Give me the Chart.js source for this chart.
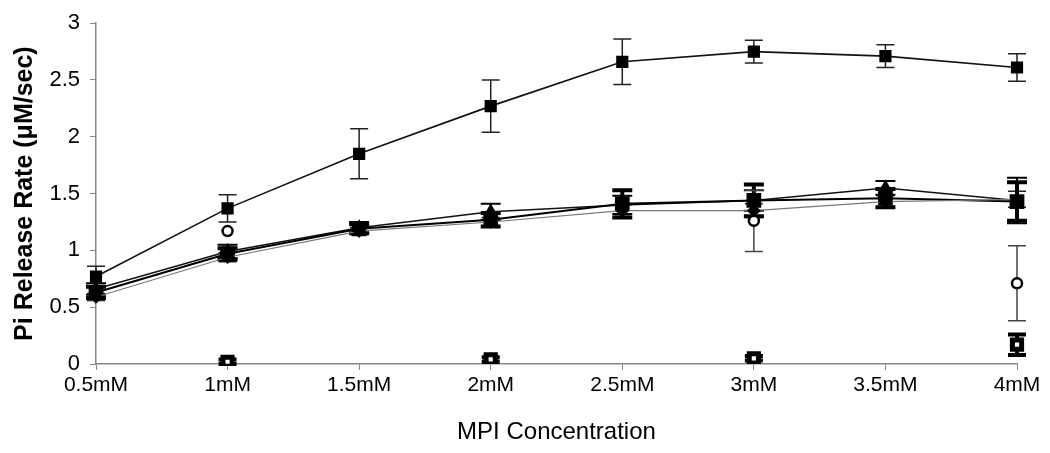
<!DOCTYPE html>
<html>
<head>
<meta charset="utf-8">
<script src="https://cdn.jsdelivr.net/npm/chart.js@4"></script>
<style>
  html, body { margin: 0; padding: 0; background: #fff; }
  #wrap { position: relative; width: 1050px; height: 453px; }
</style>
</head>
<body>
<div id="wrap"><canvas id="chart"></canvas></div>
<script>
// Data
const concentrations = ['0.5mM', '1mM', '1.5mM', '2mM', '2.5mM', '3mM', '3.5mM', '4mM'];

const topRates   = [0.77, 1.37, 1.85, 2.27, 2.66, 2.75, 2.71, 2.61];
const topErrors  = [0.09, 0.12, 0.22, 0.23, 0.20, 0.10, 0.10, 0.12];

const triRates   = [0.66, 0.99, 1.20, 1.34, 1.40, 1.44, 1.55, 1.44];
const triErrors  = [0.05, 0.06, 0.05, 0.07, 0.08, 0.09, 0.06, 0.20];

const sqRates    = [0.63, 0.97, 1.19, 1.27, 1.41, 1.44, 1.46, 1.43];
const sqErrors   = [0.05, 0.05, 0.04, 0.06, 0.12, 0.14, 0.08, 0.17];

const diaRates   = [0.59, 0.94, 1.17, 1.25, 1.35, 1.35, 1.43, 1.45];
const diaErrors  = [0.03, 0.04, 0.03, 0.04, 0.05, 0.06, 0.05, 0.07];

const circleRates  = [null, 1.17, null, null, null, 1.26, null, 0.71];
const circleErrors = [0, 0, 0, 0, 0, 0.27, 0, 0.33];

const openRates  = [null, 0.02, null, 0.04, null, 0.05, null, 0.17];
const openErrors = [0, 0.02, 0, 0.02, 0, 0.02, 0, 0.09];

const yTicks = [0, 0.5, 1, 1.5, 2, 2.5, 3];

// error bar plugin, drawn through the chart's own scales
const errorBars = {
    id: 'errorBars',
    beforeDatasetsDraw(chart) {
        const ctx = chart.ctx;
        const x = chart.scales.x;
        const y = chart.scales.y;
        chart.data.datasets.forEach((ds) => {
            if (!ds.errors) return;
            ctx.save();
            ctx.strokeStyle = ds.errColor || '#222';
            ctx.lineWidth = ds.errWidth || 1.5;
            ds.data.forEach((v, j) => {
                const e = ds.errors[j];
                if (v == null || !e) return;
                const px = x.getPixelForValue(j);
                const top = y.getPixelForValue(v + e);
                const bot = y.getPixelForValue(Math.max(v - e, 0));
                const cap = ds.capWidth || 8;
                ctx.beginPath();
                ctx.moveTo(px, top); ctx.lineTo(px, bot);
                ctx.moveTo(px - cap, top); ctx.lineTo(px + cap, top);
                ctx.moveTo(px - cap, bot); ctx.lineTo(px + cap, bot);
                ctx.stroke();
            });
            ctx.restore();
        });
    }
};

const font = "'Liberation Sans', Arial, sans-serif";

new Chart(document.getElementById('chart'), {
    type: 'line',
    data: {
        labels: concentrations,
        datasets: [
            {
                data: diaRates, errors: diaErrors, capWidth: 9,
                borderColor: '#777', borderWidth: 1.2,
                pointStyle: 'rectRot', pointRadius: 6,
                pointBackgroundColor: '#000', pointBorderColor: '#000'
            },
            {
                data: sqRates, errors: sqErrors, capWidth: 10, errWidth: 4, errColor: '#000',
                borderColor: '#000', borderWidth: 2,
                pointStyle: 'rect', pointRadius: 9,
                pointBackgroundColor: '#000', pointBorderColor: '#000'
            },
            {
                data: triRates, errors: triErrors, capWidth: 10, errWidth: 2, errColor: '#000',
                borderColor: '#111', borderWidth: 1.5,
                pointStyle: 'triangle', pointRadius: 7,
                pointBackgroundColor: '#000', pointBorderColor: '#000'
            },
            {
                data: topRates, errors: topErrors, capWidth: 9,
                borderColor: '#111', borderWidth: 1.6,
                pointStyle: 'rect', pointRadius: 7.5,
                pointBackgroundColor: '#000', pointBorderColor: '#000'
            },
            {
                data: circleRates, errors: circleErrors, capWidth: 9, errColor: '#444',
                showLine: false,
                pointStyle: 'circle', pointRadius: 5,
                pointBackgroundColor: '#fff', pointBorderColor: '#000', pointBorderWidth: 2.5
            },
            {
                data: openRates, errors: openErrors, capWidth: 9, errWidth: 4, errColor: '#000',
                showLine: false,
                pointStyle: 'rect', pointRadius: 6.5,
                pointBackgroundColor: '#fff', pointBorderColor: '#000', pointBorderWidth: 5
            }
        ]
    },
    options: {
        responsive: true,
        maintainAspectRatio: false,
        animation: false,
        layout: { padding: { top: 19, right: 33, bottom: 2, left: 0 } },
        plugins: {
            legend: { display: false },
            tooltip: { enabled: false }
        },
        scales: {
            x: {
                offset: false,
                grid: { drawOnChartArea: false, drawTicks: true, tickLength: 6, color: '#888' },
                border: { color: '#888', width: 1.5 },
                ticks: { color: '#000', font: { family: font, size: 21 }, padding: 3, maxRotation: 0 },
                title: {
                    display: true, text: 'MPI Concentration', color: '#000',
                    font: { family: font, size: 24 }, padding: { top: 20 }
                },
                afterFit(scale) { scale.height = 87; }
            },
            y: {
                min: 0, max: 3,
                afterBuildTicks(scale) { scale.ticks = yTicks.map(v => ({ value: v })); },
                grid: { drawOnChartArea: false, drawTicks: true, tickLength: 6, color: '#888' },
                border: { color: '#888', width: 1.5 },
                ticks: {
                    color: '#000', font: { family: font, size: 22 }, padding: 10,
                    callback: v => String(v)
                },
                title: {
                    display: true, text: 'Pi Release Rate (μM/sec)', color: '#000',
                    font: { family: font, size: 25, weight: 'bold' }, padding: { top: 10, bottom: 0 }
                },
                afterFit(scale) { scale.width = 96; }
            }
        }
    },
    plugins: [errorBars]
});
</script>
</body>
</html>
